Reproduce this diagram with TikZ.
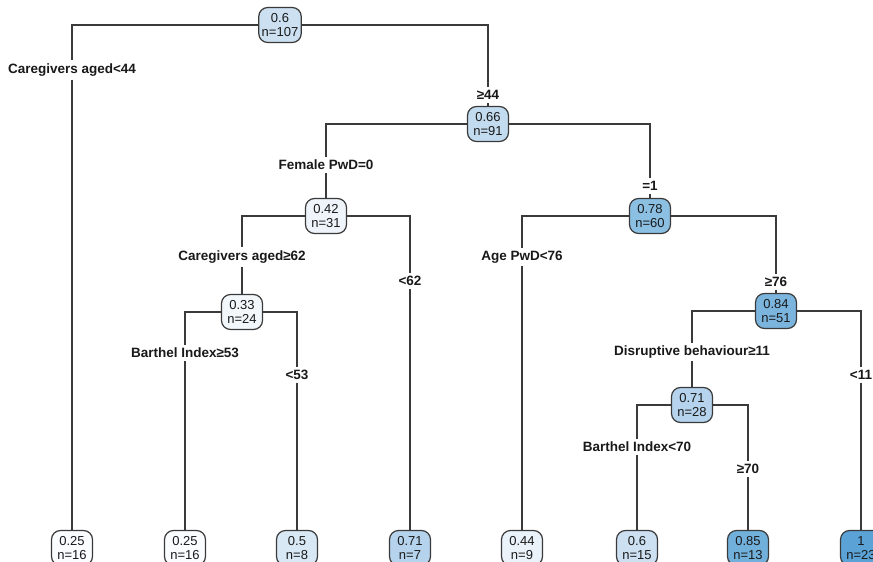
\documentclass[tikz,border=0pt]{standalone}
\usepackage{fontspec}
\setmainfont{Liberation Sans}
\usetikzlibrary{positioning}
\definecolor{c25}{HTML}{FAFCFF}
\definecolor{c33}{HTML}{F2F7FC}
\definecolor{c42}{HTML}{EEF4FA}
\definecolor{c44}{HTML}{EAF2FA}
\definecolor{c50}{HTML}{D9E8F5}
\definecolor{c60}{HTML}{CCE0F2}
\definecolor{c66}{HTML}{C3DBEF}
\definecolor{c71}{HTML}{B5D3EC}
\definecolor{c78}{HTML}{8CC0E3}
\definecolor{c84}{HTML}{7BB5DE}
\definecolor{c85}{HTML}{72B0DC}
\definecolor{c100}{HTML}{5BA3D6}
\definecolor{edge}{HTML}{3A3A3A}
\begin{document}
\begin{tikzpicture}[x=1pt,y=-1pt,
  tnode/.style={draw=edge, line width=1.2pt, rounded corners=9pt, align=center,
    minimum width=41pt, minimum height=35pt, inner xsep=3pt, inner ysep=2pt,
    font=\fontsize{13}{14}\selectfont, text=black!90},
  split/.style={fill=white, inner sep=3pt, font=\fontsize{13.5}{14}\selectfont\bfseries, text=black!90},
  branch/.style={draw=edge, line width=1.3pt}]
\useasboundingbox (0,0) rectangle (873,562);
\clip (0,0) rectangle (873,562);

% internal nodes
\node[tnode, fill=c60] (r) at (280,25) {0.6\\n=107};
\node[tnode, fill=c66] (n2) at (488,124) {0.66\\n=91};
\node[tnode, fill=c42] (n3) at (326,216) {0.42\\n=31};
\node[tnode, fill=c78] (n4) at (650,216) {0.78\\n=60};
\node[tnode, fill=c33] (n5) at (242,312) {0.33\\n=24};
\node[tnode, fill=c84] (n6) at (776,311) {0.84\\n=51};
\node[tnode, fill=c71] (n7) at (692,405) {0.71\\n=28};

% leaves
\node[tnode, fill=c25] (l1) at (72,548) {0.25\\n=16};
\node[tnode, fill=c25] (l2) at (185,548) {0.25\\n=16};
\node[tnode, fill=c50] (l3) at (297,548) {0.5\\n=8};
\node[tnode, fill=c71] (l4) at (410,548) {0.71\\n=7};
\node[tnode, fill=c44] (l5) at (522,548) {0.44\\n=9};
\node[tnode, fill=c60] (l6) at (637,548) {0.6\\n=15};
\node[tnode, fill=c85] (l7) at (748,548) {0.85\\n=13};
\node[tnode, fill=c100] (l8) at (861,548) {1\\n=23};

% split labels
\node[split] (s1) at (72,70) {Caregivers aged<44};
\node[split] (s2) at (488,95) {≥44};
\node[split] (s3) at (326,165) {Female PwD=0};
\node[split] (s4) at (650,186) {=1};
\node[split] (s5) at (242,257) {Caregivers aged≥62};
\node[split] (s6) at (410,281) {<62};
\node[split] (s7) at (185,353) {Barthel Index≥53};
\node[split] (s8) at (297,375) {<53};
\node[split] (s9) at (522,257) {Age PwD<76};
\node[split] (s10) at (776,282) {≥76};
\node[split] (s11) at (692,352) {Disruptive behaviour≥11};
\node[split] (s12) at (861,375) {<11};
\node[split] (s13) at (637,447) {Barthel Index<70};
\node[split] (s14) at (748,469) {≥70};

% branches
\path[branch] (r.west) -| (s1.north);  \path[branch] (s1.south) -- (l1.north);
\path[branch] (r.east) -| (s2.north);  \path[branch] (s2.south) -- (n2.north);
\path[branch] (n2.west) -| (s3.north); \path[branch] (s3.south) -- (n3.north);
\path[branch] (n2.east) -| (s4.north); \path[branch] (s4.south) -- (n4.north);
\path[branch] (n3.west) -| (s5.north); \path[branch] (s5.south) -- (n5.north);
\path[branch] (n3.east) -| (s6.north); \path[branch] (s6.south) -- (l4.north);
\path[branch] (n5.west) -| (s7.north); \path[branch] (s7.south) -- (l2.north);
\path[branch] (n5.east) -| (s8.north); \path[branch] (s8.south) -- (l3.north);
\path[branch] (n4.west) -| (s9.north); \path[branch] (s9.south) -- (l5.north);
\path[branch] (n4.east) -| (s10.north); \path[branch] (s10.south) -- (n6.north);
\path[branch] (n6.west) -| (s11.north); \path[branch] (s11.south) -- (n7.north);
\path[branch] (n6.east) -| (s12.north); \path[branch] (s12.south) -- (l8.north);
\path[branch] (n7.west) -| (s13.north); \path[branch] (s13.south) -- (l6.north);
\path[branch] (n7.east) -| (s14.north); \path[branch] (s14.south) -- (l7.north);
\end{tikzpicture}
\end{document}
